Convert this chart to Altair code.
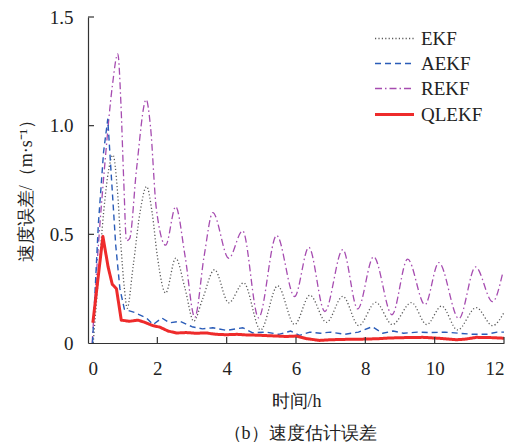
import altair as alt
import pandas as pd

# ---------------- data ----------------
series_names = ["EKF", "AEKF", "REKF", "QLEKF"]

ekf_t = [0.15, 0.3, 0.45, 0.6, 0.72, 0.85, 0.95, 1.05, 1.13, 1.3, 1.5, 1.69, 1.85, 2.0, 2.24, 2.53, 2.8,
         3.05, 3.3, 3.65, 4.06, 4.49, 4.98, 5.47, 5.96, 6.4, 6.88, 7.35, 7.81, 8.3, 8.78, 9.33, 9.77,
         10.2, 10.66, 11.2, 11.67, 12.0]
ekf_v = [0.0, 0.3, 0.6, 0.8, 0.865, 0.7, 0.45, 0.25, 0.16, 0.35, 0.6, 0.72, 0.6, 0.4, 0.23, 0.39, 0.25,
         0.1, 0.2, 0.337, 0.185, 0.277, 0.06, 0.263, 0.085, 0.22, 0.095, 0.215, 0.08, 0.187, 0.085, 0.186, 0.085,
         0.17, 0.06, 0.163, 0.08, 0.14]

aekf_t = [0.13, 0.3, 0.45, 0.57, 0.68, 0.8, 0.92, 1.05, 1.35, 1.69, 1.88, 2.13, 2.35, 2.65, 3.0, 3.3, 3.6,
          4.0, 4.47, 4.75, 5.15, 5.5, 5.85, 6.1, 6.4, 6.7, 7.0, 7.4, 7.8, 8.2, 8.5, 8.8, 9.1, 9.5, 9.9,
          10.3, 10.7, 11.1, 11.5, 11.8, 12.0]
aekf_v = [0.0, 0.55, 0.88, 1.03, 0.75, 0.45, 0.25, 0.155, 0.14, 0.115, 0.085, 0.115, 0.093, 0.1, 0.075, 0.065, 0.07,
          0.058, 0.07, 0.047, 0.05, 0.04, 0.055, 0.035, 0.05, 0.045, 0.05, 0.04, 0.05, 0.075, 0.045, 0.055, 0.045, 0.05, 0.048,
          0.05, 0.045, 0.04, 0.04, 0.05, 0.05]

rekf_t = [0.12, 0.3, 0.5, 0.7, 0.86, 0.95, 1.03, 1.11, 1.2, 1.4, 1.68, 1.8, 1.97, 2.24, 2.53, 2.8, 3.08,
          3.35, 3.6, 4.06, 4.46, 4.92, 5.44, 5.96, 6.37, 6.83, 7.35, 7.78, 8.24, 8.77, 9.22, 9.72, 10.12,
          10.7, 11.18, 11.67, 11.96]
rekf_v = [0.0, 0.45, 0.85, 1.18, 1.33, 1.1, 0.75, 0.47, 0.48, 0.8, 1.12, 1.0, 0.62, 0.45, 0.627, 0.4, 0.118,
          0.4, 0.6, 0.39, 0.516, 0.116, 0.495, 0.214, 0.44, 0.145, 0.43, 0.157, 0.397, 0.13, 0.386, 0.176, 0.37,
          0.112, 0.35, 0.19, 0.32]

qlekf_t = [0.14, 0.43, 0.58, 0.7, 0.82, 0.96, 1.2, 1.44, 1.64, 1.87, 2.07, 2.31, 2.55, 2.84, 3.1, 3.42, 3.7,
           3.99, 4.3, 4.57, 4.9, 5.15, 5.45, 5.72, 6.01, 6.3, 6.68, 7.0, 7.5, 8.03, 8.4, 8.7, 9.2, 9.66,
           10.1, 10.63, 10.9, 11.2, 11.6, 11.87, 12.0]
qlekf_v = [0.093, 0.49, 0.35, 0.27, 0.25, 0.105, 0.1, 0.105, 0.095, 0.08, 0.073, 0.055, 0.046, 0.048, 0.045, 0.046, 0.04,
           0.038, 0.04, 0.037, 0.036, 0.034, 0.032, 0.03, 0.032, 0.02, 0.012, 0.015, 0.017, 0.018, 0.02, 0.023, 0.025, 0.026,
           0.022, 0.015, 0.018, 0.026, 0.025, 0.023, 0.022]

x_ticks = [0, 2, 4, 6, 8, 10, 12]
x_inner_ticks = [2, 4, 6, 8, 10, 12]
y_ticks = [0, 0.5, 1.0, 1.5]
y_inner_ticks = [0.5, 1.0, 1.5]

# ---------------- styles ----------------
colors = ["#5a5a5a", "#2a5cb8", "#a64cb0", "#ee2b2b"]
dashes = [[1.2, 2.2], [6, 4], [7, 3, 1.5, 3], [1, 0]]
widths = [1.3, 1.4, 1.3, 3.0]
FONT = "Times New Roman"
AXC = "#333333"

rows = []
for name, ts, vs in [("EKF", ekf_t, ekf_v), ("AEKF", aekf_t, aekf_v),
                     ("REKF", rekf_t, rekf_v), ("QLEKF", qlekf_t, qlekf_v)]:
    for i, (t, v) in enumerate(zip(ts, vs)):
        rows.append({"t": t, "val": v, "series": name, "order": i})
df = pd.DataFrame(rows)

x_enc = alt.X("t:Q", title="时间/h",
              scale=alt.Scale(domain=[0, 12], nice=False, zero=False),
              axis=alt.Axis(values=x_ticks, ticks=False, labelPadding=16, grid=False,
                            domainColor=AXC, domainWidth=1.2, titleY=58, titleBaseline="middle",
                            labelFont=FONT, labelFontSize=19, labelColor="#222",
                            titleFont=FONT, titleFontSize=18, titleColor="#222", titleFontWeight="normal"))
y_enc = alt.Y("val:Q", title="速度误差/（m·s⁻¹）",
              scale=alt.Scale(domain=[0, 1.5], nice=False),
              axis=alt.Axis(values=y_ticks, ticks=False, labelPadding=15, grid=False,
                            labelExpr="datum.value == 0 ? '0' : format(datum.value, '.1f')",
                            domainColor=AXC, domainWidth=1.2, titleX=-62, titleY=169,
                            titleBaseline="middle", titleAngle=-90,
                            labelFont=FONT, labelFontSize=19, labelColor="#222",
                            titleFont=FONT, titleFontSize=18, titleColor="#222", titleFontWeight="normal"))

leg = alt.Legend(title=None, orient="none", legendX=295, legendY=11, labelFont=FONT,
                 labelFontSize=19, labelColor="#222", symbolSize=380, rowPadding=4,
                 labelOffset=15, padding=0, symbolType="M-2,0L2,0")

color_enc = alt.Color("series:N", scale=alt.Scale(domain=series_names, range=colors), legend=leg)
dash_enc = alt.StrokeDash("series:N", scale=alt.Scale(domain=series_names, range=dashes), legend=leg)
width_enc = alt.StrokeWidth("series:N", scale=alt.Scale(type="ordinal", domain=series_names, range=widths), legend=leg)

base = alt.Chart(df).encode(x=x_enc, y=y_enc, color=color_enc, strokeDash=dash_enc,
                            strokeWidth=width_enc, order="order:Q")

smooth = base.transform_filter(
    alt.FieldOneOfPredicate(field="series", oneOf=["EKF", "REKF"])
).mark_line(interpolate="monotone")
jagged = base.transform_filter(
    alt.FieldOneOfPredicate(field="series", oneOf=["AEKF", "QLEKF"])
).mark_line(interpolate="linear", strokeJoin="round")

xt = alt.Chart(pd.DataFrame({"t": x_inner_ticks})).mark_rule(color=AXC, strokeWidth=1.2).encode(
    x=x_enc, y=alt.value(326), y2=alt.value(320))
yt = alt.Chart(pd.DataFrame({"val": y_inner_ticks})).mark_rule(color=AXC, strokeWidth=1.2).encode(
    y=y_enc, x=alt.value(0), x2=alt.value(6))

chart = alt.layer(smooth, jagged, xt, yt).properties(
    width=416, height=326,
    title=alt.Title("（b）速度估计误差", orient="bottom", font=FONT, fontSize=18,
                    fontWeight="normal", color="#222", offset=15, anchor="middle", dx=4),
    autosize=alt.AutoSizeParams(type="none"),
    padding={"left": 88, "top": 17, "right": 17, "bottom": 99},
).configure(font=FONT).configure_view(stroke=None).resolve_scale(color="shared")

chart.save("out.html", embed_options={"renderer": "svg", "actions": False})
